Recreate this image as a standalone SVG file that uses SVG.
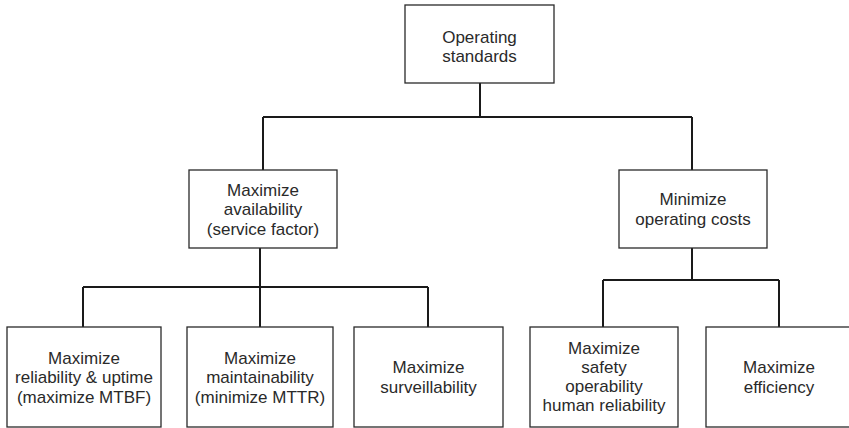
<svg xmlns="http://www.w3.org/2000/svg" width="849" height="428" viewBox="0 0 849 428">
<style>
.box{fill:#fff;stroke:#2a2a2a;stroke-width:1.3}
.t{font-family:"Liberation Sans",Arial,sans-serif;font-size:17px;fill:#2a2a2a;text-anchor:middle}
.c{fill:none;stroke:#1a1a1a;stroke-width:2}
</style>
<rect width="849" height="428" fill="#fff"/>
<g id="connectors">
<path class="c" d="M480 83V117M263 117H692M263 117V170M692 117V170"/>
<path class="c" d="M260 248V287M83 287H428M83 287V327M260 287V327M428 287V327"/>
<path class="c" d="M692 248V280M603 280H779M603 280V327M779 280V327"/>
</g>
<g id="n-operating-standards">
<rect class="box" x="405" y="5" width="149" height="78"/>
<text class="t" x="479.5" y="42.5">Operating</text>
<text class="t" x="479.5" y="62">standards</text>
</g>
<g id="n-max-availability">
<rect class="box" x="189" y="170" width="148" height="78"/>
<text class="t" x="263" y="195.5">Maximize</text>
<text class="t" x="263" y="215">availability</text>
<text class="t" x="263" y="234.5">(service factor)</text>
</g>
<g id="n-min-costs">
<rect class="box" x="619" y="170" width="148" height="78"/>
<text class="t" x="693" y="205">Minimize</text>
<text class="t" x="693" y="224.5">operating costs</text>
</g>
<g id="n-reliability">
<rect class="box" x="7" y="327" width="154" height="100"/>
<text class="t" x="84" y="363.5">Maximize</text>
<text class="t" x="84" y="383">reliability &amp; uptime</text>
<text class="t" x="84" y="402.5">(maximize MTBF)</text>
</g>
<g id="n-maintainability">
<rect class="box" x="187" y="327" width="146" height="100"/>
<text class="t" x="260" y="363.5">Maximize</text>
<text class="t" x="260" y="383">maintainability</text>
<text class="t" x="260" y="402.5">(minimize MTTR)</text>
</g>
<g id="n-surveillability">
<rect class="box" x="354" y="327" width="149" height="100"/>
<text class="t" x="428.5" y="373">Maximize</text>
<text class="t" x="428.5" y="392.5">surveillability</text>
</g>
<g id="n-safety">
<rect class="box" x="530" y="327" width="148" height="100"/>
<text class="t" x="604" y="353.5">Maximize</text>
<text class="t" x="604" y="372.5">safety</text>
<text class="t" x="604" y="391.5">operability</text>
<text class="t" x="604" y="410.5">human reliability</text>
</g>
<g id="n-efficiency">
<rect class="box" x="706" y="327" width="147" height="100"/>
<text class="t" x="779" y="373">Maximize</text>
<text class="t" x="779" y="392.5">efficiency</text>
</g>
</svg>
